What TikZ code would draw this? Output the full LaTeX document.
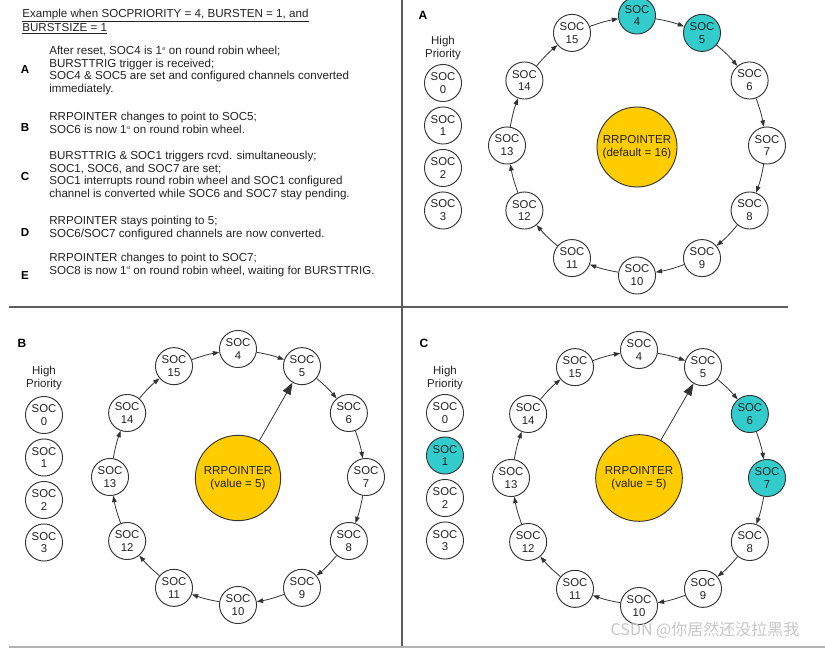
\documentclass[tikz,border=0pt]{standalone}
\usepackage{fontspec}
\setmainfont{Liberation Sans}
\newfontfamily\cjkfont{Noto Sans CJK SC}
\usetikzlibrary{arrows.meta}
\definecolor{socteal}{HTML}{33CCCC}
\definecolor{rryellow}{HTML}{FFCC00}
\definecolor{lineg}{HTML}{333333}
\definecolor{txt}{HTML}{222222}
\newcommand\fst{1\raisebox{0.7ex}{\fontsize{3.5}{3.5}\selectfont st}}
\tikzset{
  soc/.style={circle, draw=lineg, line width=0.7pt, minimum size=27.8pt, inner sep=0pt,
    align=center, font=\fontsize{8.5}{9.6}\selectfont, text=txt},
  rrbox/.style={circle, draw=lineg, line width=0.7pt, fill=rryellow, inner sep=0pt,
    align=center, font=\fontsize{8.7}{10.2}\selectfont, text=txt},
  ringarrow/.style={draw=lineg, line width=0.6pt, -{Triangle[length=4.8pt,width=3.4pt]}},
  ptrarrow/.style={draw=lineg, line width=0.6pt, -{Triangle[length=9pt,width=6.5pt]}},
  hp/.style={align=center, font=\fontsize{8.6}{9.4}\selectfont, text=txt},
  plabel/.style={font=\fontsize{9}{10}\bfseries\selectfont, text=black},
  tlabel/.style={font=\fontsize{8.7}{10}\bfseries\selectfont, text=black, anchor=center},
  tblock/.style={anchor=west, align=left, font=\fontsize{8.7}{9.3}\selectfont, text=txt, inner sep=0pt},
}
% #1 prefix, #2 cx, #3 cy, #4 r, #5 list i/fill
\newcommand\socring[5]{%
  \foreach \i/\f in {#5} {
    \pgfmathsetmacro\ang{90-(\i-4)*30}
    \node[soc, fill=\f] (#1\i) at ({#2+#4*cos(\ang)},{#3-#4*sin(\ang)}) {SOC\\\i};
  }
  \foreach \i in {4,...,15} {
    \pgfmathtruncatemacro\j{\i==15 ? 4 : \i+1}
    \draw[ringarrow] (#1\i) to[bend left=5] (#1\j);
  }
}
% #1 prefix, #2 x, #3 y of SOC0, #4 list i/fill, #5 y of High Priority
\newcommand\prio[5]{%
  \node[hp] (#1hp) at (#2,#5) {High\\Priority};
  \foreach \i/\f in {#4} {
    \node[soc, fill=\f] (#1p\i) at (#2,{#3+\i*42.5}) {SOC\\\i};
  }
}
\begin{document}
\begin{tikzpicture}[x=0.75pt,y=-0.75pt]
\useasboundingbox (0,0) rectangle (825,648);
% frame
\coordinate (vt) at (402,0);
\coordinate (vb) at (402,647);
\coordinate (hl) at (9,307);
\coordinate (hr) at (788,307);
\coordinate (bl) at (9,647);
\coordinate (br) at (825,647);
\draw[lineg!80, line width=1.3pt] (vt) -- (vb);
\draw[lineg!80, line width=1.3pt] (hl) -- (hr);
\draw[gray!60, line width=0.8pt] (bl) -- (br);

% text panel
\node[tblock] (title) at (22,21.5) {\underline{Example when SOCPRIORITY = 4, BURSTEN = 1, and}\\\underline{BURSTSIZE = 1}};
\node[tlabel] (la) at (25,70) {A};
\node[tblock] (ta) at (49,70.5) {After reset, SOC4 is \fst{} on round robin wheel;\\BURSTTRIG trigger is received;\\SOC4 \& SOC5 are set and configured channels converted\\immediately.};
\node[tlabel] (lb) at (25,128) {B};
\node[tblock] (tb) at (49,123) {RRPOINTER changes to point to SOC5;\\SOC6 is now \fst{} on round robin wheel.};
\node[tlabel] (lc) at (25,177) {C};
\node[tblock] (tc) at (49,175.5) {BURSTTRIG \& SOC1 triggers rcvd. simultaneously;\\SOC1, SOC6, and SOC7 are set;\\SOC1 interrupts round robin wheel and SOC1 configured\\channel is converted while SOC6 and SOC7 stay pending.};
\node[tlabel] (ld) at (25,233) {D};
\node[tblock] (td) at (49,228) {RRPOINTER stays pointing to 5;\\SOC6/SOC7 configured channels are now converted.};
\node[tlabel] (le) at (25,276) {E};
\node[tblock] (te) at (49,265) {RRPOINTER changes to point to SOC7;\\SOC8 is now \fst{} on round robin wheel, waiting for BURSTTRIG.};

% panel A
\node[plabel] (pa) at (423,15) {A};
\prio{A}{443}{83}{0/white,1/white,2/white,3/white}{48}
\node[rrbox, minimum size=60pt] (Arr) at (637,147) {RRPOINTER\\(default = 16)};
\socring{A}{637}{145.5}{130}{4/socteal,5/socteal,6/white,7/white,8/white,9/white,10/white,11/white,12/white,13/white,14/white,15/white}

% panel B
\node[plabel] (pb) at (22,343) {B};
\prio{B}{44}{415}{0/white,1/white,2/white,3/white}{378}
\node[rrbox, minimum size=64pt] (Brr) at (238,478) {RRPOINTER\\(value = 5)};
\socring{B}{238}{477}{128}{4/white,5/white,6/white,7/white,8/white,9/white,10/white,11/white,12/white,13/white,14/white,15/white}
\draw[ptrarrow] (Brr) -- (B5);

% panel C
\node[plabel] (pc) at (424,343) {C};
\prio{C}{445}{413}{0/white,1/socteal,2/white,3/white}{378}
\node[rrbox, minimum size=65pt] (Crr) at (639,478) {RRPOINTER\\(value = 5)};
\socring{C}{639}{478}{128}{4/white,5/white,6/socteal,7/socteal,8/white,9/white,10/white,11/white,12/white,13/white,14/white,15/white}
\draw[ptrarrow] (Crr) -- (C5);

% watermark
\node[text=gray!45, font=\cjkfont\fontsize{12}{12}\selectfont, inner sep=0pt] (wm) at (705,630) {CSDN @你居然还没拉黑我};
\end{tikzpicture}
\end{document}
